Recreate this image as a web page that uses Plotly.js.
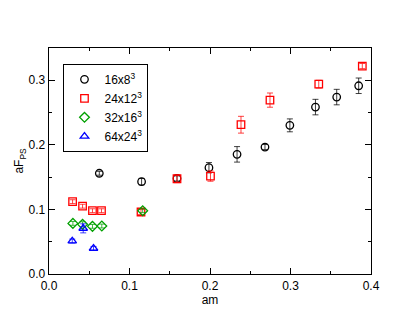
<!DOCTYPE html>
<html><head><meta charset="utf-8">
<script src="https://cdn.plot.ly/plotly-3.0.1.min.js"></script>
<style>html,body{margin:0;padding:0;background:#fff;}#plot{width:418px;height:323px;}</style>
</head><body><div id="plot"></div>
<script>
// 16x8^3
const am16 = [0.0625, 0.115, 0.159, 0.1987, 0.2336, 0.2683, 0.2992, 0.331, 0.3574, 0.3847];
const f16  = [0.156, 0.143, 0.148, 0.1646, 0.1853, 0.1966, 0.2302, 0.2585, 0.274, 0.2915];
const e16  = [0.003, 0.005, 0.004, 0.008, 0.012, 0.004, 0.010, 0.012, 0.012, 0.012];
// 24x12^3
const am24 = [0.0293, 0.0417, 0.054, 0.0652, 0.1143, 0.159, 0.2006, 0.2385, 0.2745, 0.3351, 0.3892];
const f24  = [0.112, 0.105, 0.098, 0.098, 0.096, 0.1475, 0.1517, 0.2312, 0.2693, 0.294, 0.322];
const e24  = [0.003, 0.003, 0.003, 0.003, 0.004, 0.006, 0.008, 0.013, 0.011, 0.006, 0.004];
// 32x16^3
const am32 = [0.0297, 0.0417, 0.054, 0.0656, 0.1164];
const f32  = [0.0784, 0.0769, 0.0738, 0.0743, 0.098];
const e32  = [0.003, 0.004, 0.003, 0.003, 0.003];
// 64x24^3
const am64 = [0.0289, 0.0425, 0.0553];
const f64  = [0.051, 0.0707, 0.0397];
const e64  = [0.003, 0.007, 0.003];

function tr(x, y, e, name, color, symbol, ecol) {
  return {
    x: x, y: y, name: name, type: 'scatter', mode: 'markers',
    marker: {symbol: symbol, size: 7.5, color: color, line: {color: color, width: 1.3}},
    error_y: {type: 'data', array: e, visible: true, color: ecol, thickness: 1, width: 3}
  };
}
const data = [
  tr(am16, f16, e16, '16x8<sup>3</sup>', '#000000', 'circle-open', 'rgba(0,0,0,0.75)'),
  tr(am24, f24, e24, '24x12<sup>3</sup>', '#ff0000', 'square-open', 'rgba(255,0,0,0.75)'),
  tr(am32, f32, e32, '32x16<sup>3</sup>', '#00a000', 'diamond-open', 'rgba(0,160,0,0.75)'),
  tr(am64, f64, e64, '64x24<sup>3</sup>', '#0000ff', 'triangle-up-open', 'rgba(0,0,255,0.75)')
];
const axisCommon = {
  showline: true, linecolor: '#000', linewidth: 1.3, mirror: 'ticks',
  ticks: 'inside', ticklen: 6, tickcolor: '#000', tickwidth: 1,
  showgrid: false, zeroline: false,
  tickfont: {family: 'Liberation Sans, Arial, sans-serif', size: 12, color: '#000'}
};
const layout = {
  width: 418, height: 323,
  margin: {l: 49, r: 47, t: 48, b: 49},
  paper_bgcolor: '#fff', plot_bgcolor: '#fff',
  font: {family: 'Liberation Sans, Arial, sans-serif', size: 12, color: '#000'},
  showlegend: true,
  legend: {x: 0.045, y: 0.93, xanchor: 'left', yanchor: 'top',
    bordercolor: '#000', borderwidth: 1, bgcolor: '#fff',
    font: {size: 12}, tracegroupgap: 0, itemwidth: 30},
  xaxis: Object.assign({}, axisCommon, {
    range: [0, 0.4], dtick: 0.1, tickformat: '.1f',
    minor: {ticks: 'inside', dtick: 0.05, ticklen: 3, tickcolor: '#000'},
    title: {text: 'am', font: {size: 12}, standoff: 0}
  }),
  yaxis: Object.assign({}, axisCommon, {
    range: [0, 0.35], dtick: 0.1, tickformat: '.1f',
    minor: {ticks: 'inside', dtick: 0.05, ticklen: 3, tickcolor: '#000'},
    title: {text: 'aF<sub>PS</sub>', font: {size: 12}, standoff: 2}
  })
};
Plotly.newPlot('plot', data, layout, {staticPlot: true});
</script></body></html>
